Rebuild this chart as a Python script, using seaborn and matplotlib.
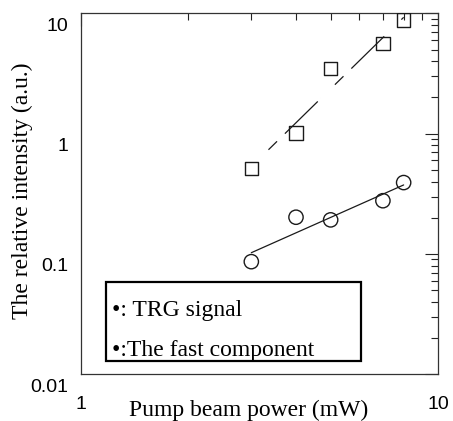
import numpy as np
import pandas as pd
import matplotlib
matplotlib.use('Agg')
import matplotlib.pyplot as plt
import matplotlib.transforms as mtransforms
from matplotlib.patches import Rectangle
from matplotlib.ticker import FixedLocator, FixedFormatter, NullFormatter, LogLocator
import seaborn as sns

# ---- data ----
power_mw = [3, 4, 5, 7, 8]
trg_signal = [0.515, 1.01, 3.50, 5.60, 8.81]
fast_component = [0.0863, 0.202, 0.192, 0.277, 0.392]
x_ticks = [1, 10]
x_tick_labels = ['1', '10']
y_ticks = [0.01, 0.1, 1, 10]
y_tick_labels = ['0.01', '0.1', '1', '10']
legend_labels = ['\u2022: TRG signal', '\u2022:The fast component']
x_label = 'Pump beam power (mW)'
y_label = 'The relative intensity (a.u.)'

sns.set_theme(style='white')
plt.rcParams['font.family'] = ['Liberation Serif', 'DejaVu Serif']
plt.rcParams['lines.scale_dashes'] = False

df = pd.DataFrame({'power': power_mw, 'trg': trg_signal, 'fast': fast_component})


def power_fit(x, y):
    lx, ly = np.log10(np.asarray(x, float)), np.log10(np.asarray(y, float))
    k, b = np.polyfit(lx, ly, 1)
    xs = np.linspace(min(x), max(x), 50)
    return xs, 10 ** (b + k * np.log10(xs))


W, H = 453, 421
fig = plt.figure(figsize=(W / 100, H / 100), dpi=100)
ax = fig.add_axes([80.7 / W, 1 - 374.3 / H, 357.6 / W, 361 / H])
ax.set_xscale('log')
ax.set_yscale('log')

ink = '#1a1a1a'
px = 0.72  # points per pixel
fx, fy = power_fit(df['power'], df['trg'])
sns.lineplot(x=fx, y=fy, ax=ax, color=ink, lw=0.9, sort=False,
             linestyle=(69 * px, (12 * px, 11 * px, 46 * px, 24 * px)))
gx, gy = power_fit(df['power'], df['fast'])
sns.lineplot(x=gx, y=gy, ax=ax, color=ink, lw=0.9, sort=False)

sns.scatterplot(data=df, x='power', y='trg', marker='s', s=92, ax=ax,
                fc='none', ec=ink, linewidth=1.0, zorder=3)
sns.scatterplot(data=df, x='power', y='fast', marker='o', s=106, ax=ax,
                fc='none', ec=ink, linewidth=1.0, zorder=3)

ax.set_xlim(1, 10)
ax.set_ylim(0.01, 10)

ax.xaxis.set_major_locator(FixedLocator(x_ticks))
ax.xaxis.set_major_formatter(FixedFormatter(x_tick_labels))
ax.xaxis.set_minor_locator(LogLocator(base=10, subs=range(2, 10)))
ax.xaxis.set_minor_formatter(NullFormatter())
ax.yaxis.set_major_locator(FixedLocator(y_ticks))
ax.yaxis.set_major_formatter(FixedFormatter(y_tick_labels))
ax.yaxis.set_minor_locator(LogLocator(base=10, subs=range(2, 10)))
ax.yaxis.set_minor_formatter(NullFormatter())

ax.tick_params(which='both', direction='in', top=True, right=True,
               color='#222222', width=0.8, labelsize=14,
               labelcolor='black', labelfontfamily='Liberation Sans')
ax.tick_params(which='major', length=9.4)
ax.tick_params(which='minor', length=5)
ax.tick_params(axis='x', which='major', pad=15.5)
ax.tick_params(axis='y', which='major', pad=9)
shift = mtransforms.ScaledTranslation(0, -0.11, fig.dpi_scale_trans)
for lab in ax.get_yticklabels():
    lab.set_transform(lab.get_transform() + shift)

for sp in ax.spines.values():
    sp.set_color('#333333')
    sp.set_linewidth(0.9)

ax.set_xlabel(x_label, fontsize=17, color='black')
ax.set_ylabel(y_label, fontsize=17, color='black')
ax.xaxis.set_label_coords(0.469, -0.072)
ax.yaxis.set_label_coords(-0.132, 0.508)

# legend-like box
ax.add_patch(Rectangle((0.071, 0.037), 0.714, 0.218, transform=ax.transAxes,
                       fill=False, ec='black', lw=1.6, zorder=4))
ax.text(0.088, 0.1615, legend_labels[0], transform=ax.transAxes, fontsize=17,
        va='baseline', ha='left', color='black')
ax.text(0.088, 0.0507, legend_labels[1], transform=ax.transAxes, fontsize=17,
        va='baseline', ha='left', color='black')

fig.savefig('out.png', dpi=100)
